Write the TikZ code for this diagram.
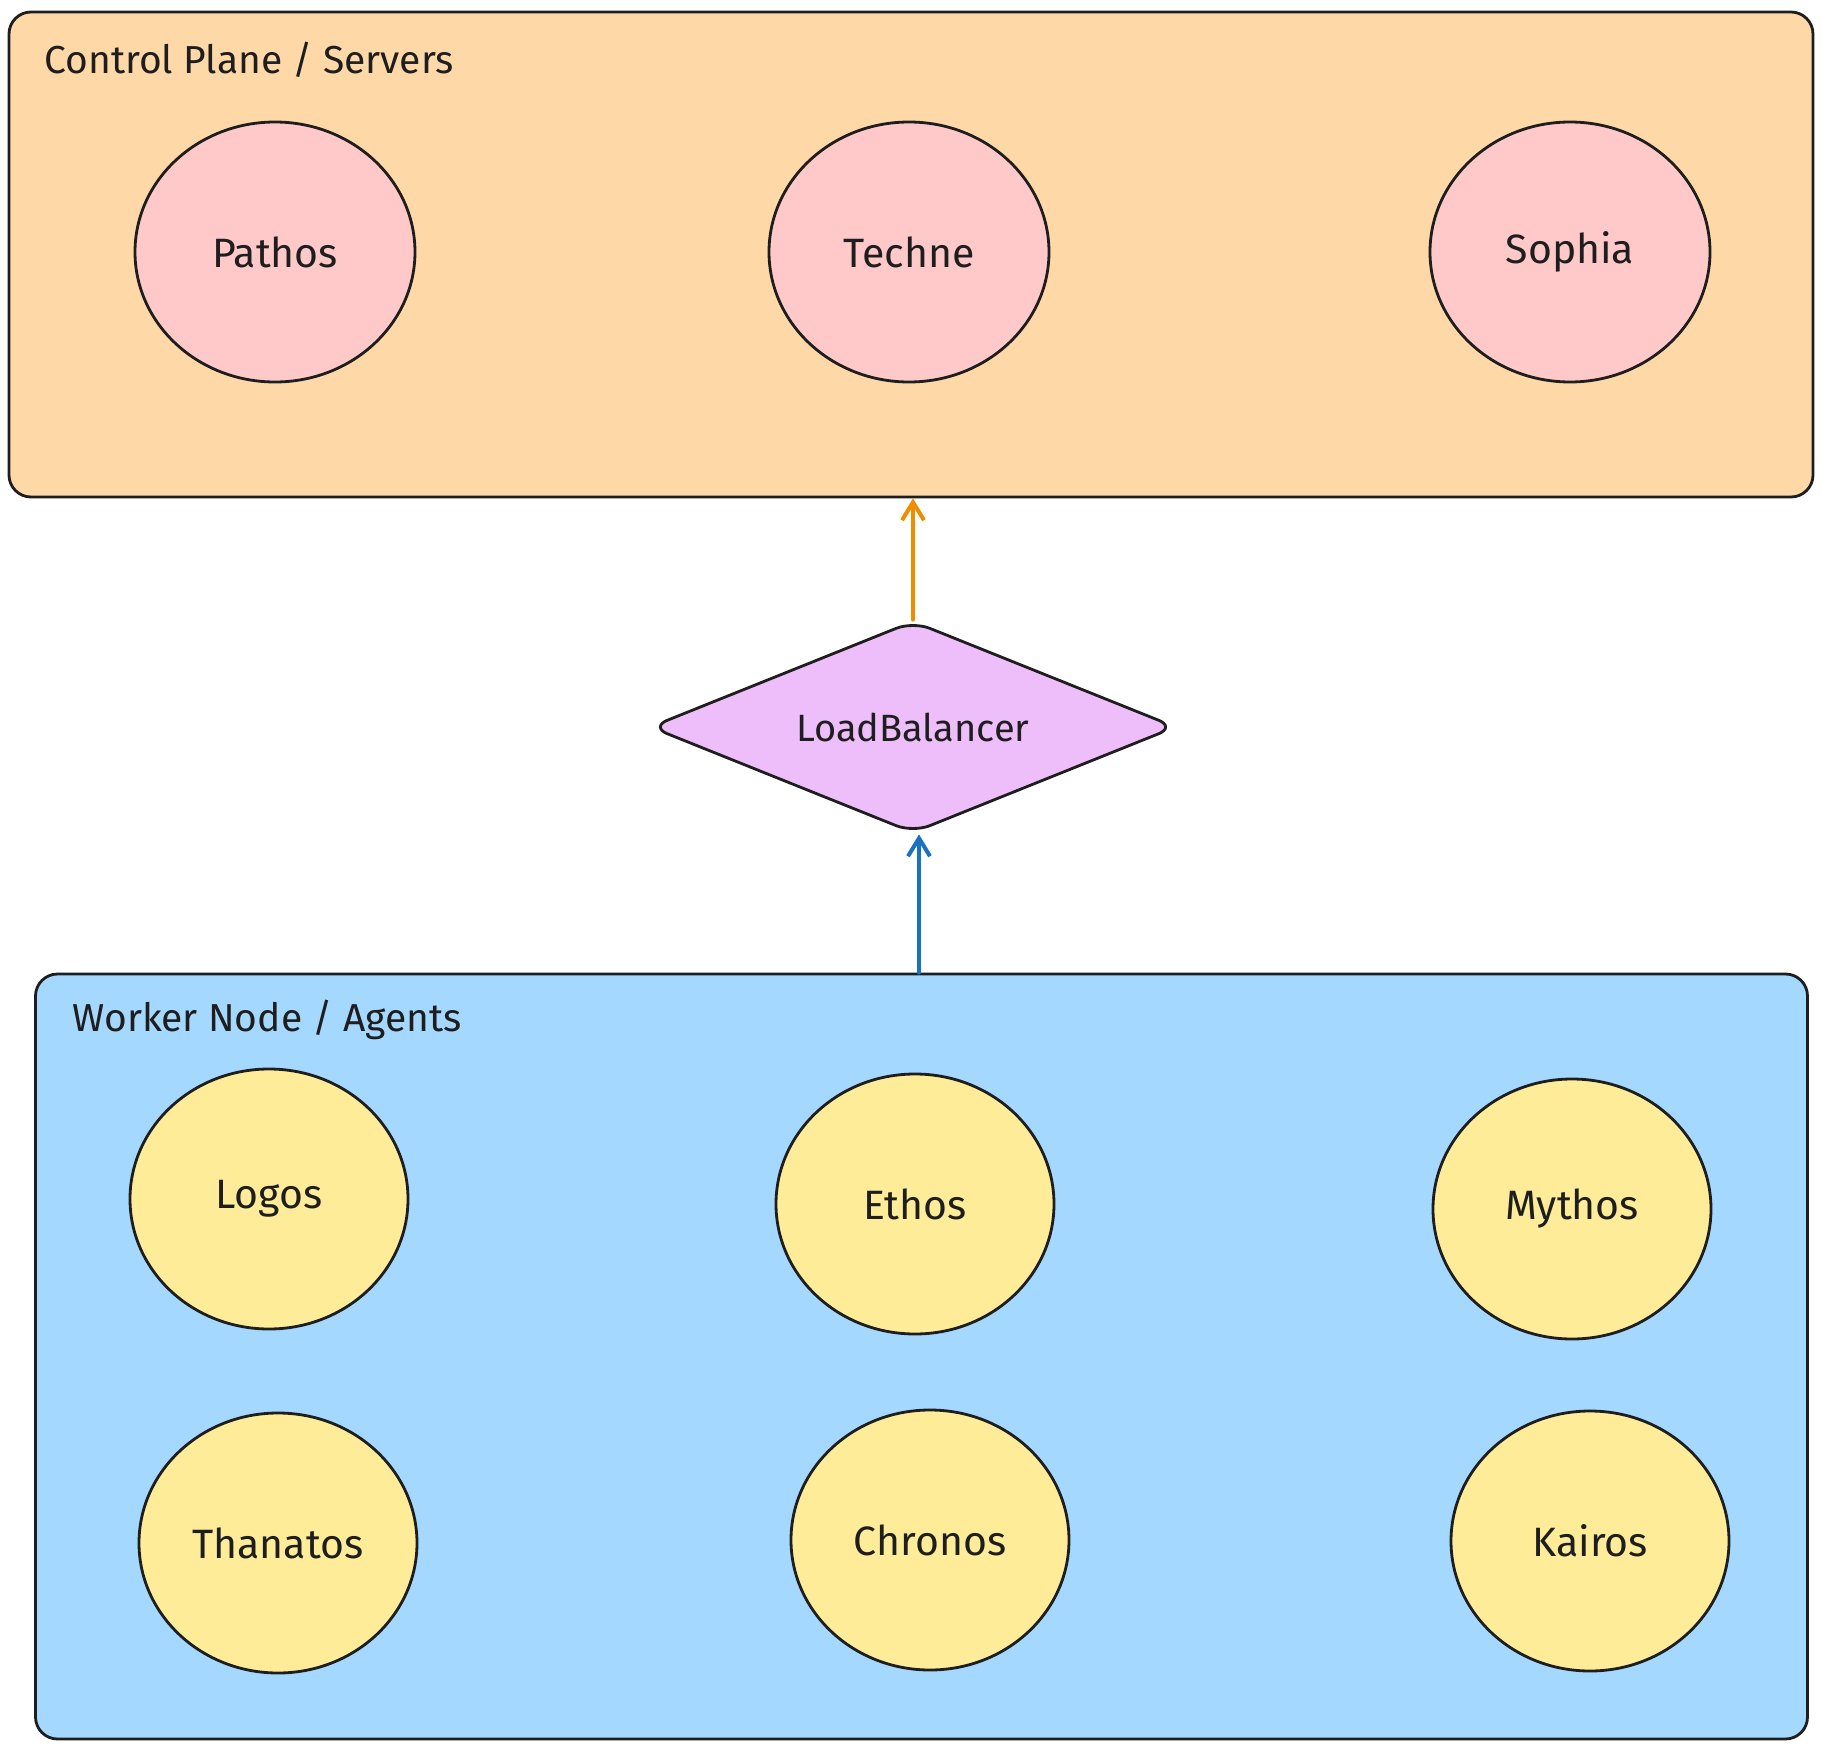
\documentclass[tikz,border=0pt]{standalone}
\usepackage{fontspec}
\setmainfont{Fira Sans}
\usetikzlibrary{shapes.geometric,arrows.meta}
\definecolor{ink}{HTML}{1E1E1E}
\definecolor{cpfill}{HTML}{FFD8A8}
\definecolor{wnfill}{HTML}{A5D8FF}
\definecolor{srvfill}{HTML}{FFC9C9}
\definecolor{agfill}{HTML}{FFEC99}
\definecolor{lbfill}{HTML}{EEBEFA}
\definecolor{orangearrow}{HTML}{F08C00}
\definecolor{bluearrow}{HTML}{1971C2}
\tikzset{
  groupbox/.style={draw=ink, line width=1.4pt, rounded corners=11pt, inner sep=0pt},
  grouptitle/.style={anchor=base west, inner sep=0pt, text=ink, font=\fontsize{19.5}{23}\selectfont},
  server/.style={ellipse, draw=ink, fill=srvfill, line width=1.4pt, minimum width=140pt, minimum height=130pt, text=ink, font=\fontsize{20.5}{24}\selectfont},
  agent/.style={ellipse, draw=ink, fill=agfill, line width=1.4pt, minimum width=139pt, minimum height=130pt, text=ink, font=\fontsize{20.5}{24}\selectfont},
  balancer/.style={diamond, draw=ink, fill=lbfill, line width=1.4pt, minimum width=263pt, minimum height=106pt, aspect=2.5, rounded corners=9pt, inner sep=0pt, text=ink, font=\fontsize{19}{23}\selectfont},
  flow/.style={line width=2pt, -{Straight Barb[length=9pt,width=11pt,line width=2pt]}, line cap=round},
}
\begin{document}
\begin{tikzpicture}[x=0.5pt,y=-0.5pt]
\useasboundingbox[fill=white] (0,0) rectangle (1822,1750);
% groups
\node[groupbox, fill=cpfill, minimum width=902pt, minimum height=242.5pt] (cp) at (911,254.5) {};
\node[grouptitle] (cptitle) at (44,74) {Control Plane / Servers};
\node[groupbox, fill=wnfill, minimum width=886pt, minimum height=382.5pt] (wn) at (921.5,1356.5) {};
\node[grouptitle] (wntitle) at (72,1031) {Worker Node / Agents};
% servers
\node[server] (pathos) at (275,252) {Pathos};
\node[server] (techne) at (909,252) {Techne};
\node[server] (sophia) at (1570,252) {Sophia};
% balancer
\node[balancer] (lb) at (913,727) {LoadBalancer};
% agents
\node[agent] (logos) at (269,1199) {Logos};
\node[agent] (ethos) at (915,1204) {Ethos};
\node[agent] (mythos) at (1572,1209) {Mythos};
\node[agent] (thanatos) at (278,1543) {Thanatos};
\node[agent] (chronos) at (930,1540) {Chronos};
\node[agent] (kairos) at (1590,1541) {Kairos};
% connectors
\draw[flow, orangearrow] (lb.north) -- (lb.north |- cp.south);
\draw[flow, bluearrow] ([xshift=3pt]lb.south |- wn.north) -- ([xshift=3pt]lb.south);
\end{tikzpicture}
\end{document}
